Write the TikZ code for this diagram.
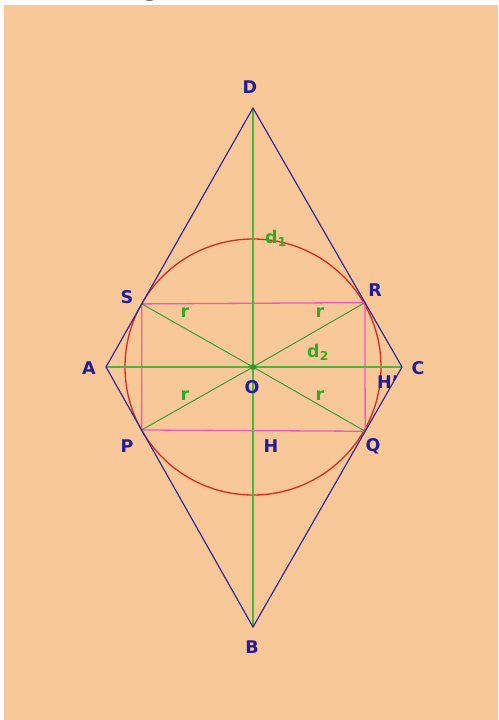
\documentclass[tikz,border=0pt]{standalone}
\usepackage{fontspec}
\setmainfont{DejaVu Sans}
\usetikzlibrary{calc}
\definecolor{bg}{RGB}{249,200,152}
\definecolor{navy}{RGB}{36,28,150}
\definecolor{rhomb}{RGB}{50,40,150}
\definecolor{gr}{RGB}{70,185,60}
\definecolor{grlab}{RGB}{50,170,40}
\definecolor{pk}{RGB}{245,85,195}
\definecolor{rd}{RGB}{220,40,30}
\tikzset{
  lab/.style={text=navy,font=\fontsize{17.5}{19}\selectfont\bfseries,inner sep=0pt},
  glab/.style={text=grlab,font=\fontsize{17.5}{19}\selectfont\bfseries,inner sep=0pt},
  rhline/.style={draw=rhomb,line width=1.2pt},
  axis/.style={draw=gr,line width=1.3pt},
  rad/.style={draw=gr!85!black,line width=1pt},
  rect/.style={draw=pk,line width=1.3pt},
  circ/.style={draw=rd,line width=1.3pt}
}
\begin{document}
\begin{tikzpicture}[x=1pt,y=-1pt]
\useasboundingbox (0,0) rectangle (498,720);
\fill[white] (0,0) rectangle (498,720);
\fill[bg] (4,5) rectangle (498,720);
\node[anchor=base,font=\fontsize{26}{28}\selectfont\bfseries,inner sep=0pt] (title) at (151,-5) {g};
% vertices
\coordinate (A) at (106,367);
\coordinate (C) at (402,367);
\coordinate (D) at (253,108);
\coordinate (B) at (253,627);
\coordinate (O) at (253,367);
% tangent points
\coordinate (S) at ($(A)!(O)!(D)$);
\coordinate (R) at ($(C)!(O)!(D)$);
\coordinate (P) at ($(A)!(O)!(B)$);
\coordinate (Q) at ($(C)!(O)!(B)$);
% circle
\draw[circ] (O) circle[radius=128];
% rectangle
\draw[rect] (S) -- (R) -- (Q) -- (P) -- cycle;
% axes
\draw[axis] (D) -- (B);
\draw[axis] (A) -- (C);
% radii
\draw[rad] (O) -- (S);
\draw[rad] (O) -- (R);
\draw[rad] (O) -- (P);
\draw[rad] (O) -- (Q);
% rhombus
\draw[rhline] (A) -- (D) -- (C) -- (B) -- cycle;
\fill[gr!80!black] (O) circle[radius=3];
% labels
\node[lab] (lD) at (250,87) {D};
\node[lab] (lB) at (252,647) {B};
\node[lab] (lA) at (89,368) {A};
\node[lab] (lC) at (418,368) {C};
\node[lab] (lS) at (127,297) {S};
\node[lab] (lR) at (375,290) {R};
\node[lab] (lP) at (127,446) {P};
\node[lab] (lQ) at (373,446) {Q};
\node[lab] (lO) at (252,387) {O};
\node[lab] (lH) at (271,446) {H};
\node[lab,anchor=west] (lH2) at (377,382) {H'};
\node[glab] (ld1) at (276,238) {d$_{\mathbf 1}$};
\node[glab] (ld2) at (318,352) {d$_{\mathbf 2}$};
\node[glab] (r1) at (185,313) {r};
\node[glab] (r2) at (320,313) {r};
\node[glab] (r3) at (185,396) {r};
\node[glab] (r4) at (320,396) {r};
\end{tikzpicture}
\end{document}
